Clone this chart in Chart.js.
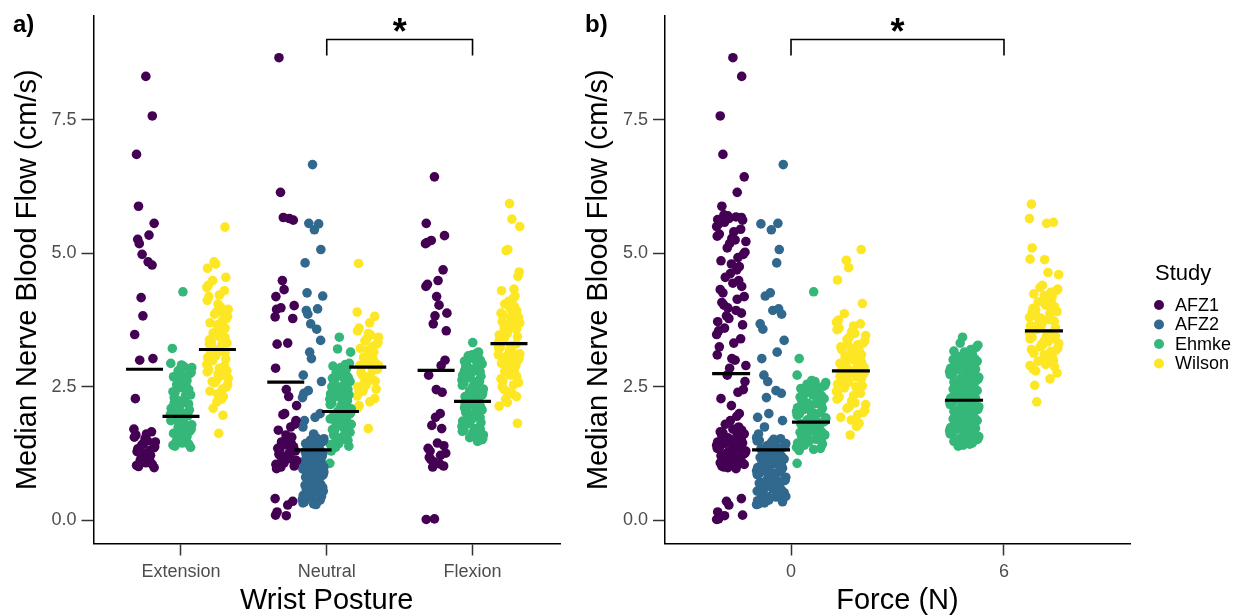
<!DOCTYPE html>
<html><head><meta charset="utf-8">
<script src="https://cdn.jsdelivr.net/npm/chart.js@4.4.1/dist/chart.umd.min.js"></script>
<style>
html,body{margin:0;padding:0;background:#fff;}
#wrap{position:relative;width:1251px;height:616px;overflow:hidden;background:#fff;}
canvas{position:absolute;top:0;}
</style></head><body>
<div id="wrap">
<canvas id="ca" width="575" height="616" style="left:0px"></canvas>
<canvas id="cb" width="676" height="616" style="left:575px"></canvas>
</div>
<script>
// ---------------- DATA ----------------
const studies = ['AFZ1','AFZ2','Ehmke','Wilson'];
const postureCats = ['Extension','Neutral','Flexion'];
const forceTicks = [0, 6];
const yTicks = [0, 2.5, 5, 7.5];

// Panel a: Wrist posture
const extAFZ1 = [8.31,7.57,6.85,5.88,5.56,5.34,5.26,5.18,4.98,4.84,4.78,4.17,3.83,3.48,3.03,3.0,2.28,1.71,1.66,1.62,1.6,1.56,1.53,1.49,1.47,1.44,1.41,1.38,1.36,1.31,1.29,1.25,1.22,1.19,1.17,1.13,1.1,1.08,1.05,1.03,1.01,0.99,1.15,1.34,1.27];
const extEhmke = [4.28,3.22,2.94,2.91,2.88,2.86,2.83,2.8,2.77,2.75,2.71,2.69,2.66,2.62,2.6,2.57,2.54,2.5,2.48,2.45,2.41,2.39,2.35,2.33,2.3,2.26,2.24,2.21,2.18,2.15,2.12,2.1,2.07,2.04,2.01,1.98,1.96,1.93,1.9,1.87,1.85,1.82,1.79,1.76,1.74,1.71,1.68,1.65,1.63,1.6,1.57,1.55,1.52,1.5,1.47,1.45,1.43,1.41,1.39,1.37,2.52,2.2,1.88,1.62,2.0,1.77];
const extWilson = [5.49,4.84,4.8,4.72,4.55,4.49,4.4,4.36,4.3,4.22,4.19,4.12,4.05,4.0,3.95,3.9,3.86,3.82,3.78,3.74,3.7,3.66,3.62,3.58,3.55,3.51,3.48,3.45,3.42,3.38,3.35,3.32,3.29,3.26,3.23,3.2,3.17,3.14,3.11,3.08,3.05,3.02,2.99,2.96,2.92,2.89,2.85,2.82,2.78,2.74,2.7,2.66,2.62,2.58,2.54,2.5,2.46,2.42,2.37,2.32,2.27,2.22,2.1,1.97,1.63,3.6,3.3,3.0,2.8,3.9,3.15,2.6];
const neuAFZ1 = [8.66,6.14,5.67,5.65,5.62,4.49,4.32,4.19,4.02,3.98,3.95,3.81,3.78,3.32,3.3,2.85,2.45,2.32,2.15,2.0,1.98,1.87,1.8,1.75,1.69,1.6,1.56,1.52,1.5,1.47,1.44,1.41,1.38,1.35,1.33,1.3,1.27,1.24,1.21,1.19,1.16,1.13,1.1,1.08,1.05,1.02,1.0,0.97,0.41,0.36,0.29,0.16,0.1,0.09,1.25,1.12,1.45];
const neuAFZ2 = [6.66,5.56,5.55,5.44,5.07,4.82,4.26,4.2,3.96,3.93,3.86,3.68,3.58,3.37,3.15,3.03,2.72,2.6,2.43,2.38,2.3,2.0,1.93,1.87,1.75,1.62,
  1.55,1.53,1.52,1.5,1.49,1.47,1.45,1.44,1.42,1.4,1.39,1.37,1.35,1.34,1.32,1.3,1.29,1.27,1.25,1.23,1.22,1.2,1.18,1.17,1.15,1.13,1.12,1.1,1.08,1.06,1.05,1.03,1.01,0.99,0.98,0.96,0.94,0.93,0.91,0.89,0.88,0.86,0.84,0.82,0.81,0.79,0.77,0.76,0.74,0.72,0.71,0.69,0.67,0.66,0.64,0.62,0.6,0.59,0.57,0.55,0.54,0.52,0.5,0.49,0.47,0.45,0.44,0.42,0.4,0.38,0.37,0.35,0.33,0.31,0.3,1.0,0.85,0.7,0.55,1.2,0.65,0.45,1.1,0.9,0.75];
const neuEhmke = [3.43,3.21,3.15,2.94,2.92,2.89,2.86,2.84,2.81,2.79,2.76,2.73,2.71,2.68,2.66,2.63,2.6,2.58,2.55,2.53,2.5,2.47,2.45,2.42,2.4,2.37,2.35,2.32,2.29,2.27,2.24,2.22,2.19,2.17,2.14,2.11,2.09,2.06,2.04,2.01,1.99,1.96,1.94,1.91,1.88,1.86,1.83,1.81,1.78,1.76,1.73,1.7,1.68,1.65,1.63,1.6,1.57,1.55,1.52,1.5,1.47,1.44,1.42,1.39,1.37,1.3,1.07,2.1,2.3,2.5,1.9,2.7,2.2,1.8,2.0,2.4];
const neuWilson = [4.81,3.9,3.82,3.7,3.6,3.55,3.5,3.47,3.43,3.4,3.36,3.33,3.3,3.26,3.22,3.19,3.15,3.12,3.08,3.05,3.01,2.98,2.94,2.9,2.87,2.83,2.8,2.76,2.72,2.69,2.65,2.61,2.58,2.54,2.5,2.46,2.42,2.38,2.33,2.28,2.22,2.15,2.1,1.72,3.2,2.9,2.6,3.0];
const flxAFZ1 = [6.43,5.56,5.33,5.24,5.2,5.18,4.69,4.49,4.42,4.38,4.19,4.03,3.88,3.83,3.68,3.55,3.0,2.9,2.72,2.45,2.4,2.0,1.93,1.78,1.72,1.45,1.4,1.35,1.3,1.26,1.22,1.18,1.14,1.1,1.06,1.02,1.0,0.03,0.02];
const flxEhmke = [3.33,3.15,3.13,3.1,3.08,3.05,3.03,3.0,2.98,2.96,2.93,2.91,2.88,2.86,2.84,2.81,2.79,2.77,2.74,2.72,2.7,2.67,2.65,2.63,2.6,2.58,2.56,2.53,2.51,2.49,2.46,2.44,2.42,2.39,2.37,2.35,2.32,2.3,2.28,2.25,2.23,2.21,2.18,2.16,2.14,2.11,2.09,2.07,2.04,2.02,2.0,1.97,1.95,1.93,1.9,1.88,1.86,1.83,1.81,1.79,1.76,1.74,1.72,1.69,1.67,1.65,1.62,1.6,1.58,1.55,1.53,1.51,1.48,2.2,2.4,2.1,2.6,1.9,2.3,2.5,2.0,1.7,2.8,2.15,2.35];
const flxWilson = [5.93,5.64,5.5,5.07,5.05,4.65,4.57,4.33,4.3,4.08,4.2,4.15,4.1,4.05,4.0,3.96,3.92,3.88,3.84,3.8,3.76,3.72,3.68,3.65,3.61,3.58,3.54,3.5,3.47,3.44,3.4,3.37,3.33,3.3,3.27,3.24,3.21,3.18,3.15,3.12,3.09,3.06,3.03,3.0,2.97,2.94,2.91,2.88,2.85,2.82,2.79,2.76,2.72,2.69,2.65,2.61,2.58,2.54,2.5,2.46,2.42,2.37,2.32,2.27,2.21,2.14,1.82,3.6,3.35,3.1,2.9,3.8,3.45,3.25,2.8,3.0,3.7,3.55];

// Panel b: Force
const f0AFZ1 = [8.66,8.31,7.57,6.85,6.43,6.14,5.88,5.72,5.7,5.68,5.67,5.66,5.65,5.63,5.62,5.58,5.55,5.5,5.45,5.4,5.36,5.32,5.28,5.25,5.22,5.18,5.1,5.02,4.98,4.92,4.86,4.8,4.75,4.69,4.62,4.55,4.49,4.44,4.38,4.32,4.26,4.19,4.14,4.08,4.03,3.98,3.93,3.88,3.83,3.78,3.72,3.66,3.6,3.55,3.48,3.4,3.32,3.25,3.1,3.03,3.0,2.9,2.85,2.72,2.6,2.45,2.4,2.28,2.15,2.0,1.95,1.87,1.8,1.75,1.71,1.69,1.66,1.64,1.62,1.6,1.58,1.56,1.55,1.53,1.51,1.5,1.48,1.47,1.45,1.44,1.42,1.41,1.39,1.38,1.36,1.35,1.33,1.32,1.3,1.29,1.27,1.26,1.24,1.23,1.21,1.2,1.18,1.17,1.15,1.14,1.12,1.11,1.09,1.08,1.06,1.05,1.03,1.02,1.0,0.99,0.97,0.41,0.36,0.29,0.16,0.1,0.09,0.03,0.02];
const f0AFZ2 = neuAFZ2;
const f0Ehmke = [4.28,3.03,2.72,2.62,2.6,2.58,2.56,2.55,2.53,2.51,2.49,2.47,2.46,2.44,2.42,2.4,2.38,2.37,2.35,2.33,2.31,2.29,2.28,2.26,2.24,2.22,2.2,2.19,2.17,2.15,2.13,2.11,2.1,2.08,2.06,2.04,2.02,2.01,1.99,1.97,1.95,1.93,1.92,1.9,1.88,1.86,1.84,1.83,1.81,1.79,1.77,1.75,1.74,1.72,1.7,1.68,1.66,1.65,1.63,1.61,1.59,1.57,1.56,1.54,1.52,1.5,1.48,1.47,1.45,1.43,1.41,1.39,1.37,1.35,1.33,1.31,1.07,2.0,1.8,1.9,2.1,1.7,1.6];
const f0Wilson = [5.07,4.87,4.73,4.5,4.06,3.87,3.75,3.71,3.68,3.64,3.6,3.57,3.53,3.5,3.46,3.43,3.39,3.36,3.32,3.29,3.25,3.22,3.18,3.15,3.11,3.08,3.04,3.01,2.97,2.94,2.9,2.87,2.83,2.8,2.76,2.73,2.69,2.66,2.62,2.59,2.55,2.52,2.48,2.45,2.41,2.38,2.34,2.31,2.27,2.24,2.2,2.17,2.13,2.1,2.06,2.02,1.98,1.93,1.88,1.82,1.76,1.6,3.0,2.9,2.8,3.1,2.7,2.85,2.75,2.95,3.2,2.6,3.3,2.5,2.65,2.88,3.05];
const f6Ehmke = [3.43,3.32,3.28,3.24,3.2,3.17,3.15,3.12,3.1,3.09,3.07,3.06,3.04,3.03,3.01,3.0,2.98,2.97,2.95,2.94,2.92,2.91,2.89,2.88,2.86,2.85,2.83,2.82,2.8,2.79,2.77,2.76,2.74,2.73,2.71,2.7,2.68,2.67,2.65,2.64,2.62,2.61,2.59,2.58,2.56,2.55,2.53,2.52,2.5,2.49,2.47,2.46,2.44,2.43,2.41,2.4,2.38,2.37,2.35,2.34,2.32,2.31,2.29,2.28,2.26,2.25,2.23,2.22,2.2,2.19,2.17,2.16,2.14,2.13,2.11,2.1,2.08,2.07,2.05,2.04,2.02,2.01,1.99,1.98,1.96,1.95,1.93,1.92,1.9,1.89,1.87,1.86,1.84,1.83,1.81,1.8,1.78,1.77,1.75,1.74,1.72,1.71,1.69,1.68,1.66,1.65,1.63,1.62,1.6,1.59,1.57,1.56,1.54,1.53,1.51,1.5,1.48,1.47,1.45,1.43,1.41,1.39];
const f6Wilson = [5.92,5.65,5.58,5.56,5.1,4.89,4.88,4.64,4.6,4.4,4.36,4.33,4.3,4.27,4.24,4.21,4.18,4.15,4.12,4.09,4.06,4.03,4.0,3.97,3.94,3.91,3.88,3.85,3.82,3.79,3.76,3.73,3.7,3.67,3.64,3.61,3.58,3.55,3.52,3.49,3.46,3.43,3.4,3.37,3.34,3.31,3.28,3.25,3.22,3.19,3.16,3.13,3.1,3.07,3.04,3.01,2.98,2.95,2.92,2.88,2.84,2.8,2.76,2.65,2.53,2.22,3.6,3.5,3.4,3.7,3.3,3.55,3.45,3.65,3.2,3.8,3.0,3.35,3.9,2.9,3.75];

// Medians (horizontal bars), indexed by study
const medExtension = [2.83, null, 1.95, 3.20];
const medNeutral   = [2.59, 1.32, 2.04, 2.87];
const medFlexion   = [2.81, null, 2.23, 3.31];
const medForce0    = [2.75, 1.32, 1.84, 2.80];
const medForce6    = [null, null, 2.25, 3.55];

// ---------------- STYLE / LAYOUT ----------------
const colors = ['#440154','#31688E','#35B779','#FDE725'];
const FONT = "'Liberation Sans', Arial, Helvetica, sans-serif";
const JIT = [0.12,-0.84,0.55,-0.31,0.93,-0.62,0.05,0.71,-0.97,0.38,-0.15,0.82,-0.48,0.27,-0.73,0.64,-0.05,-0.9,0.46,-0.22,0.99,-0.55,0.18,-0.39,0.77,-0.68,0.33,-0.1,0.88,-0.79,0.51,-0.44,0.02,0.69,-0.26,0.41,-0.93];

function build(catXs, vals, meds, dodgeW, jitW) {
  const pts = studies.map(() => []);
  const medPts = [];
  catXs.forEach((cx, ci) => {
    const present = [0,1,2,3].filter(s => vals[ci][s]);
    const n = present.length;
    present.forEach((s, k) => {
      const gx = cx + (k - (n - 1) / 2) * dodgeW / n;
      vals[ci][s].forEach((v, i) => {
        pts[s].push({x: gx + jitW * JIT[(i * 7 + s * 11 + ci * 5) % JIT.length], y: v});
      });
      medPts.push({x: gx, y: meds[ci][s]});
    });
  });
  return {pts, medPts};
}

function makeChart(canvas, cfg) {
  const b = build(cfg.catXs, cfg.vals, cfg.meds, cfg.dodgeW, cfg.jitW);
  const datasets = [{
    label: 'median', data: b.medPts, pointStyle: 'line', pointRadius: cfg.medR,
    pointBorderWidth: 3.2, pointBorderColor: '#000', pointBackgroundColor: '#000', order: 0
  }];
  studies.forEach((s, i) => datasets.push({
    label: s, data: b.pts[i], pointRadius: 4.8, pointBorderWidth: 0,
    pointBackgroundColor: colors[i], pointBorderColor: colors[i], order: 1
  }));
  const annot = {
    id: 'annot',
    afterDraw(chart) {
      const ctx = chart.ctx, xs = chart.scales.x, ys = chart.scales.y;
      ctx.save();
      // panel tag
      ctx.fillStyle = '#000';
      ctx.font = 'bold 24px ' + FONT;
      ctx.textAlign = 'left'; ctx.textBaseline = 'middle';
      ctx.fillText(cfg.tag, cfg.tagX, 25);
      // significance bracket
      const x1 = xs.getPixelForValue(cfg.br[0]), x2 = xs.getPixelForValue(cfg.br[1]);
      const yT = ys.getPixelForValue(9.0), yB = ys.getPixelForValue(8.7);
      ctx.strokeStyle = '#000'; ctx.lineWidth = 1.6;
      ctx.beginPath();
      ctx.moveTo(x1, yB); ctx.lineTo(x1, yT); ctx.lineTo(x2, yT); ctx.lineTo(x2, yB);
      ctx.stroke();
      ctx.font = 'bold 36px ' + FONT;
      ctx.textAlign = 'center'; ctx.textBaseline = 'alphabetic';
      ctx.fillText('*', (x1 + x2) / 2, yT + 4);
      // legend
      if (cfg.legend) {
        const L = cfg.legend;
        ctx.textAlign = 'left'; ctx.textBaseline = 'middle';
        ctx.font = '22px ' + FONT;
        ctx.fillText('Study', L.x, L.titleY);
        ctx.font = '18px ' + FONT;
        studies.forEach((s, i) => {
          const y = L.y0 + i * L.dy;
          ctx.fillStyle = colors[i];
          ctx.beginPath(); ctx.arc(L.cx, y, 5, 0, Math.PI * 2); ctx.fill();
          ctx.fillStyle = '#000';
          ctx.fillText(s, L.tx, y + 1);
        });
      }
      ctx.restore();
    }
  };
  return new Chart(canvas, {
    type: 'scatter',
    data: {datasets},
    options: {
      responsive: false, animation: false, events: [],
      layout: {autoPadding: false, padding: {left: 0, right: cfg.padRight, top: 16, bottom: 0}},
      plugins: {legend: {display: false}, tooltip: {enabled: false}},
      scales: {
        x: {
          type: 'linear', min: cfg.xMin, max: cfg.xMax,
          afterFit: s => { s.height = 72.5; s.paddingLeft = 0; s.paddingRight = 0; },
          afterBuildTicks: s => { s.ticks = cfg.xTickVals.map(v => ({value: v})); },
          ticks: {callback: cfg.xLabel, color: '#4d4d4d', font: {family: FONT, size: 18}, padding: 6, maxRotation: 0, autoSkip: false},
          grid: {display: true, drawOnChartArea: false, drawTicks: true, tickLength: 12, tickColor: '#333', tickWidth: 1.5},
          border: {display: true, color: '#000', width: 1.5},
          title: {display: true, text: cfg.xTitle, color: '#000', font: {family: FONT, size: 29, lineHeight: 1}, padding: {top: 0, bottom: 1}}
        },
        y: {
          type: 'linear', min: -0.43, max: 9.44,
          afterFit: s => { s.width = cfg.yW; s.paddingTop = 0; s.paddingBottom = 0; },
          afterBuildTicks: s => { s.ticks = yTicks.map(v => ({value: v})); },
          ticks: {callback: v => Number(v).toFixed(1), color: '#4d4d4d', font: {family: FONT, size: 18}, padding: 5},
          grid: {display: true, drawOnChartArea: false, drawTicks: true, tickLength: 12, tickColor: '#333', tickWidth: 1.5},
          border: {display: true, color: '#000', width: 1.5},
          title: {display: true, text: 'Median Nerve Blood Flow (cm/s)', color: '#000', font: {family: FONT, size: 29, lineHeight: 1}, padding: {top: cfg.yTitlePad, bottom: 0}}
        }
      }
    },
    plugins: [annot]
  });
}

makeChart(document.getElementById('ca'), {
  catXs: [1, 2, 3],
  vals: [[extAFZ1, null, extEhmke, extWilson], [neuAFZ1, neuAFZ2, neuEhmke, neuWilson], [flxAFZ1, null, flxEhmke, flxWilson]],
  meds: [medExtension, medNeutral, medFlexion],
  dodgeW: 0.75, jitW: 0.075, medR: 18.5,
  xMin: 0.4, xMax: 3.6, xTickVals: [1, 2, 3], xLabel: v => postureCats[Math.round(v) - 1],
  xTitle: 'Wrist Posture', yW: 93.5, padRight: 15, yTitlePad: 13,
  tag: 'a)', tagX: 13, br: [2, 3]
});
makeChart(document.getElementById('cb'), {
  catXs: forceTicks,
  vals: [[f0AFZ1, f0AFZ2, f0Ehmke, f0Wilson], [null, null, f6Ehmke, f6Wilson]],
  meds: [medForce0, medForce6],
  dodgeW: 4.5, jitW: 0.42, medR: 19,
  xMin: -3.55, xMax: 9.55, xTickVals: forceTicks, xLabel: v => String(v),
  xTitle: 'Force (N)', yW: 90, padRight: 121, yTitlePad: 9,
  tag: 'b)', tagX: 10, br: [0, 6],
  legend: {x: 580, titleY: 274, cx: 584, tx: 600, y0: 305, dy: 19.5}
});
</script>
</body></html>
